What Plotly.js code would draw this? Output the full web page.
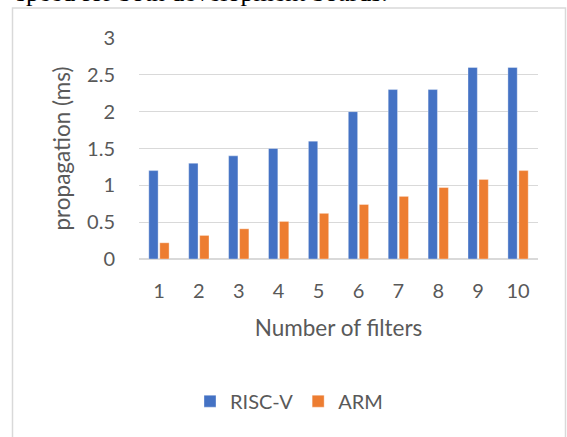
<!DOCTYPE html>
<html>
<head>
<meta charset="utf-8">
<script src="https://cdn.plot.ly/plotly-3.0.1.min.js"></script>
<style>
html,body{margin:0;padding:0;background:#fff;}
#chart{width:567px;height:437px;}
</style>
</head>
<body>
<div id="chart"></div>
<script>
const categories = ["1","2","3","4","5","6","7","8","9","10"];
const riscv = [1.2, 1.3, 1.4, 1.5, 1.6, 2.0, 2.3, 2.3, 2.6, 2.6];
const arm = [0.22, 0.32, 0.41, 0.51, 0.62, 0.74, 0.85, 0.97, 1.08, 1.2];
const seriesNames = ["RISC-V", "ARM"];
const yTicks = [0, 0.5, 1, 1.5, 2, 2.5, 3];
const yTickText = ["0", "0.5", "1", "1.5", "2", "2.5", "3"];

const L = 139, R = 538, T = 37.5, B = 259.3, W = 567, H = 437;
const px = x => (x - L) / (R - L);
const py = y => (B - y) / (B - T);

const font = "Lato, 'Open Sans', sans-serif";
const grey = "#595959";

const traces = [
  {type: "bar", x: categories, y: riscv, name: seriesNames[0],
   marker: {color: "#4472C4", line: {color: "rgba(255,255,255,0.35)", width: 1}}},
  {type: "bar", x: categories, y: arm, name: seriesNames[1],
   marker: {color: "#ED7D31", line: {color: "rgba(255,255,255,0.35)", width: 1}}}
];

const layout = {
  width: W, height: H,
  margin: {l: L, r: W - R, t: T, b: H - B, pad: 0},
  paper_bgcolor: "#fff", plot_bgcolor: "#fff",
  font: {family: font, color: grey, size: 20},
  barmode: "group", bargap: 0.45, bargroupgap: 0.15,
  showlegend: true,
  legend: {orientation: "h", x: px(289), xanchor: "center", y: py(402), yanchor: "middle",
           font: {size: 20, color: grey}, itemwidth: 30, traceorder: "normal"},
  xaxis: {type: "category", showgrid: false, zeroline: false, showline: false,
          ticks: "", ticklabelstandoff: 18, tickfont: {size: 20, color: grey},
          title: {text: "Number of filters", font: {size: 22.5, color: grey}, standoff: 19},
          automargin: false},
  yaxis: {range: [0, 3], tickvals: yTicks, ticktext: yTickText, showgrid: true,
          gridcolor: "#d9d9d9", gridwidth: 1.3, zeroline: true, zerolinecolor: "#d9d9d9", zerolinewidth: 1.3,
          showline: false, ticks: "", ticklabelstandoff: 23, tickfont: {size: 20, color: grey},
          title: {text: "propagation (ms)", font: {size: 22.5, color: grey}, standoff: 10},
          automargin: false},
  shapes: [
    {type: "rect", xref: "paper", yref: "paper", x0: px(12.5), x1: px(565.5), y0: py(460), y1: py(7.5),
     line: {color: "#d9d9d9", width: 1.5}, fillcolor: "rgba(0,0,0,0)", layer: "below"}
  ],
  annotations: [
    {text: "speed for both development boards.", xref: "paper", yref: "paper",
     x: px(14), xanchor: "left", y: py(-8), yanchor: "middle", showarrow: false,
     font: {family: "'Liberation Serif', 'Times New Roman', serif", size: 26, color: "#000"}}
  ]
};

Plotly.newPlot("chart", traces, layout, {displayModeBar: false, staticPlot: true});
</script>
</body>
</html>
